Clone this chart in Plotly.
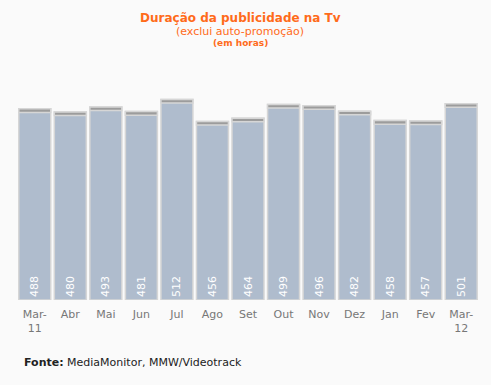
import plotly.graph_objects as go

months = ["Mar-<br>11", "Abr", "Mai", "Jun", "Jul", "Ago", "Set", "Out", "Nov", "Dez", "Jan", "Fev", "Mar-<br>12"]
hours = [488, 480, 493, 481, 512, 456, 464, 499, 496, 482, 458, 457, 501]
cap = 9

fig = go.Figure()
fig.add_trace(go.Bar(
    x=months, y=hours,
    marker=dict(color="#afbccd", line=dict(color="#d6d6d6", width=1.5)),
    text=[str(v) for v in hours], textposition="inside", insidetextanchor="start",
    textangle=-90, textfont=dict(color="white", size=11, family="DejaVu Sans"),
    hoverinfo="skip",
))
fig.add_trace(go.Bar(
    x=months, y=[cap] * len(hours), base=[v - cap for v in hours],
    marker=dict(color="#9c9c9c", line=dict(color="#d6d6d6", width=1.5)),
    hoverinfo="skip",
))
fig.update_layout(
    width=491, height=385, barmode="overlay", bargap=0.1, showlegend=False,
    paper_bgcolor="#fafafa", plot_bgcolor="#fafafa",
    margin=dict(l=17, r=12, t=65, b=85, autoexpand=False),
    font=dict(family="DejaVu Sans", size=11, color="#7a7a7a"),
    xaxis=dict(showgrid=False, showline=False, ticks="", ticklabelstandoff=6,
               tickfont=dict(size=11, color="#777777")),
    yaxis=dict(range=[0, 600], visible=False),
)
ann = [
    dict(text="<b>Duração da publicidade na Tv</b>", y=18, size=12),
    dict(text="(exclui auto-promoção)", y=31, size=11),
    dict(text="<b>(em horas)</b>", y=43, size=9),
]
for a in ann:
    fig.add_annotation(text=a["text"], xref="paper", x=(240 - 17) / (491 - 29), yref="paper",
                       y=1 + (65 - a["y"]) / 235, xanchor="center", yanchor="middle",
                       showarrow=False, font=dict(size=a["size"], color="#ff6b1a", family="DejaVu Sans"))
fig.add_annotation(text="<b>Fonte:</b> MediaMonitor, MMW/Videotrack", xref="paper", x=(22 - 17) / 462,
                   yref="paper", y=-(362 - 300) / 235, xanchor="left", yanchor="middle",
                   showarrow=False, font=dict(size=11, color="#222222", family="DejaVu Sans"))
fig.write_html("out.html", config={"displayModeBar": False},
               post_script="document.body.style.margin='0';document.body.style.background='#fafafa';")
